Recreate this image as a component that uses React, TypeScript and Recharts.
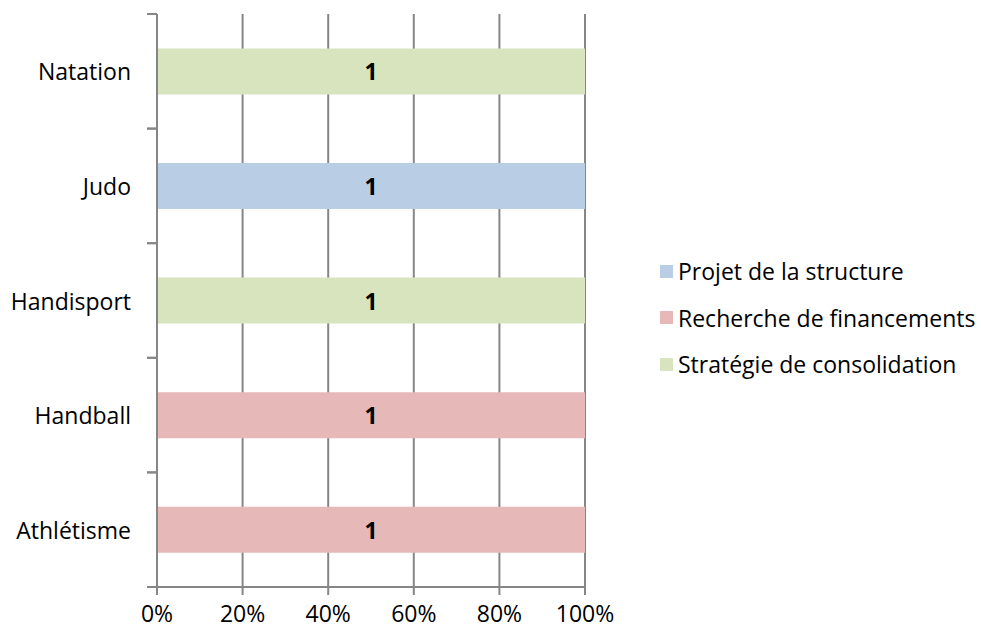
import React from 'react';
import { BarChart, Bar, XAxis, YAxis, CartesianGrid, Legend, LabelList } from 'recharts';

const categories = ['Natation', 'Judo', 'Handisport', 'Handball', 'Athlétisme'];
const seriesNames = ['Projet de la structure', 'Recherche de financements', 'Stratégie de consolidation'];
const projet = [0, 1, 0, 0, 0];
const recherche = [0, 0, 0, 1, 1];
const strategie = [1, 0, 1, 0, 0];
const seriesColors = ['#B9CDE5', '#E6B9B8', '#D7E4BD'];
const xTicks = [0, 0.2, 0.4, 0.6, 0.8, 1];

const FONT = "'Open Sans', sans-serif";
const FS = 23;
const AXIS = '#868686';
const TICK_SIZE = 10;
const TICK_MARGIN = 16;

const data = categories.map((name, i) => ({
  name,
  [seriesNames[0]]: projet[i],
  [seriesNames[1]]: recherche[i],
  [seriesNames[2]]: strategie[i],
}));

// excel-style category ticks: marks sit between categories, not at centers
function CatTick(props: any) {
  const { x, y, payload } = props;
  const ax = x + TICK_SIZE + TICK_MARGIN;
  const half = payload.offset ?? 0;
  return (
    <g>
      <line x1={ax - TICK_SIZE} x2={ax} y1={y - half} y2={y - half} stroke={AXIS} strokeWidth={2} />
      <line x1={ax - TICK_SIZE} x2={ax} y1={y + half} y2={y + half} stroke={AXIS} strokeWidth={2} />
      <text x={x} y={y} textAnchor="end" dominantBaseline="central" fontFamily={FONT} fontSize={FS} fill="#000">
        {payload.value}
      </text>
    </g>
  );
}

function BarValue(props: any) {
  const { x, y, width, height, value } = props;
  if (!value) return null;
  return (
    <text x={x + width / 2} y={y + height / 2} textAnchor="middle" dominantBaseline="central"
      fontFamily={FONT} fontSize={FS} fontWeight="bold" fill="#000">
      {value}
    </text>
  );
}

function LegendBox() {
  return (
    <div style={{ fontFamily: FONT, fontSize: FS, color: '#000' }}>
      {seriesNames.map((n, i) => (
        <div key={n} style={{ display: 'flex', alignItems: 'center', height: 46.5 }}>
          <span style={{ width: 13, height: 13, background: seriesColors[i], marginRight: 5, display: 'inline-block' }} />
          <span>{n}</span>
        </div>
      ))}
    </div>
  );
}

export default function App() {
  return (
    <div style={{ position: 'absolute', left: 0, top: 0, background: '#fff' }}>
      <BarChart
        width={981}
        height={632}
        data={data}
        layout="vertical"
        stackOffset="expand"
        barCategoryGap="30%"
        margin={{ top: 14, right: 396, bottom: 5, left: 0 }}
      >
        <CartesianGrid horizontal={false} stroke={AXIS} strokeWidth={2} />
        <XAxis
          type="number"
          domain={[0, 1]}
          ticks={xTicks}
          tickFormatter={(v: number) => `${Math.round(v * 100)}%`}
          height={40}
          tickSize={8}
          tickMargin={11}
          axisLine={{ stroke: AXIS, strokeWidth: 2 }}
          tickLine={{ stroke: AXIS, strokeWidth: 2 }}
          tick={{ fontFamily: FONT, fontSize: FS, fill: '#000' }}
        />
        <YAxis
          type="category"
          dataKey="name"
          width={157}
          tickSize={TICK_SIZE}
          tickMargin={TICK_MARGIN}
          tickLine={false}
          axisLine={{ stroke: AXIS, strokeWidth: 2 }}
          tick={<CatTick />}
          interval={0}
        />
        <Legend
          layout="vertical"
          align="center"
          verticalAlign="middle"
          wrapperStyle={{ left: 660, top: 248, width: 320 }}
          content={() => <LegendBox />}
        />
        {seriesNames.map((n, i) => (
          <Bar key={n} dataKey={n} stackId="a" fill={seriesColors[i]} isAnimationActive={false}>
            <LabelList dataKey={n} content={<BarValue />} />
          </Bar>
        ))}
      </BarChart>
    </div>
  );
}
